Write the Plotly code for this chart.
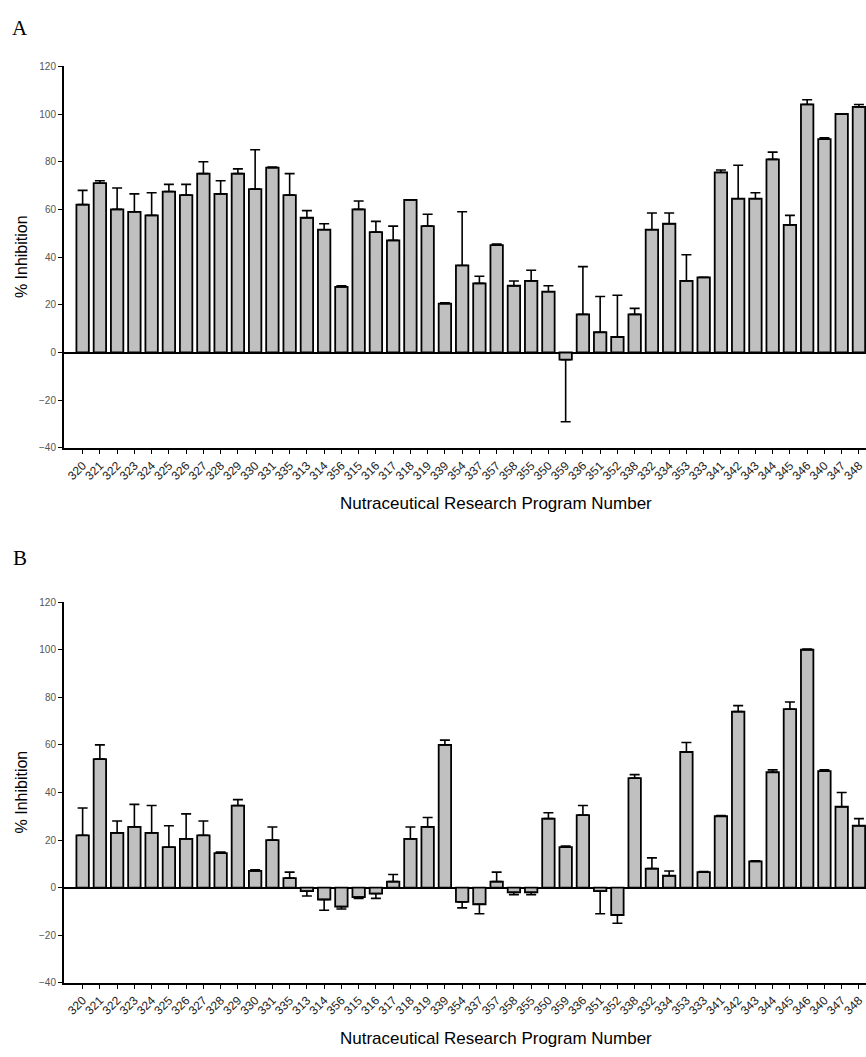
import plotly.graph_objects as go

categories = ["320", "321", "322", "323", "324", "325", "326", "327", "328", "329",
              "330", "331", "335", "313", "314", "356", "315", "316", "317", "318",
              "319", "339", "354", "337", "357", "358", "355", "350", "359", "336",
              "351", "352", "338", "332", "334", "353", "333", "341", "342", "343",
              "344", "345", "346", "340", "347", "348"]

values_a = [62, 71, 60, 59, 57.5, 67.5, 66, 75, 66.5, 75,
            68.5, 77.5, 66, 56.5, 51.5, 27.5, 60, 50.5, 47, 64,
            53, 20.5, 36.5, 29, 45, 28, 30, 25.5, -3, 16,
            8.5, 6.5, 16, 51.5, 54, 30, 31.5, 75.5, 64.5, 64.5,
            81, 53.5, 104, 89.5, 100, 103]
errors_a = [6, 1, 9, 7.5, 9.5, 3, 4.5, 5, 5.5, 2,
            16.5, 0.3, 9, 3, 2.5, 0.5, 3.5, 4.5, 6, 0,
            5, 0.3, 22.5, 3, 0.5, 2, 4.5, 2.5, 26, 20,
            15, 17.5, 2.5, 7, 4.5, 11, 0, 1, 14, 2.5,
            3, 4, 2, 0.5, 0, 1]

values_b = [22, 54, 23, 25.5, 23, 17, 20.5, 22, 14.5, 34.5,
            7, 20, 4, -1.5, -5, -8, -4, -2.5, 2.5, 20.5,
            25.5, 60, -6, -7, 2.5, -2, -2, 29, 17, 30.5,
            -1.5, -11.5, 46, 8, 5, 57, 6.5, 30, 74, 11,
            48.5, 75, 100, 49, 34, 26]
errors_b = [11.5, 6, 5, 9.5, 11.5, 9, 10.5, 6, 0.5, 2.5,
            0.5, 5.5, 2.5, 2, 4.5, 1, 0.5, 2, 3, 5,
            4, 2, 2.5, 4, 4, 1, 1, 2.5, 0.5, 4,
            9.5, 3.5, 1.5, 4.5, 2, 4, 0.3, 0.3, 2.5, 0.3,
            1, 3, 0.3, 0.5, 6, 3]

y_ticks = [-40, -20, 0, 20, 40, 60, 80, 100, 120]
x_title = "Nutraceutical Research Program Number"
y_title = "% Inhibition"

W, H = 866, 1057
FONT = "Liberation Sans, Arial, sans-serif"


def add_panel(fig, vals, errs, xref, yref):
    up = [e if v >= 0 else 0 for v, e in zip(vals, errs)]
    down = [e if v < 0 else 0 for v, e in zip(vals, errs)]
    fig.add_trace(go.Bar(
        x=categories, y=vals, width=0.72,
        marker=dict(color="#c0c0c0", line=dict(color="black", width=1.8)),
        error_y=dict(type="data", symmetric=False, array=up, arrayminus=down,
                     color="black", thickness=1.6, width=5),
        xaxis=xref, yaxis=yref, showlegend=False, hoverinfo="skip"))


fig = go.Figure()
add_panel(fig, values_a, errors_a, "x", "y")
add_panel(fig, values_b, errors_b, "x2", "y2")


def py(p):
    return 1 - p / H


def px(p):
    return (p - 64) / (W - 64)


x_common = dict(
    type="category", range=[-1.08, 45.41], showline=True, linecolor="black",
    linewidth=1.8, ticks="outside", ticklen=4, tickwidth=1.3, tickcolor="black",
    tickangle=-45, tickfont=dict(family=FONT, size=12, color="#222"),
    showgrid=False, zeroline=False, fixedrange=True)
y_common = dict(
    range=[-40, 120], tickvals=y_ticks, showline=True, linecolor="black",
    linewidth=2, ticks="outside", ticklen=4, tickwidth=1.3, tickcolor="black",
    tickfont=dict(family=FONT, size=10, color="#555"), showgrid=False,
    zeroline=True, zerolinecolor="black", zerolinewidth=2.2, fixedrange=True)

fig.update_layout(
    width=W, height=H, margin=dict(l=64, r=0, t=0, b=0),
    paper_bgcolor="white", plot_bgcolor="white", barmode="overlay",
    xaxis=dict(domain=[0, 1], anchor="y", **x_common),
    yaxis=dict(domain=[py(447), py(61)], anchor="x", **y_common),
    xaxis2=dict(domain=[0, 1], anchor="y2", **x_common),
    yaxis2=dict(domain=[py(988), py(603)], anchor="x2", **y_common),
)

annots = []
for label, ly, top, bot, ty in [("A", 22, 61, 447, 503), ("B", 558, 603, 988, 1044)]:
    annots.append(dict(text=label, xref="paper", yref="paper", x=px(20), y=py(ly),
                       showarrow=False, xanchor="center", yanchor="middle",
                       font=dict(family="Liberation Serif, DejaVu Serif, serif", size=21, color="black")))
    annots.append(dict(text=y_title, xref="paper", yref="paper", x=px(21), y=py((top + bot) / 2),
                       showarrow=False, textangle=-90, xanchor="center", yanchor="middle",
                       font=dict(family=FONT, size=16, color="black")))
    annots.append(dict(text=x_title, xref="paper", yref="paper", x=px(496), y=py(ty),
                       showarrow=False, xanchor="center", yanchor="middle",
                       font=dict(family=FONT, size=17, color="black")))
fig.update_layout(annotations=annots)

fig.write_html("out.html")
